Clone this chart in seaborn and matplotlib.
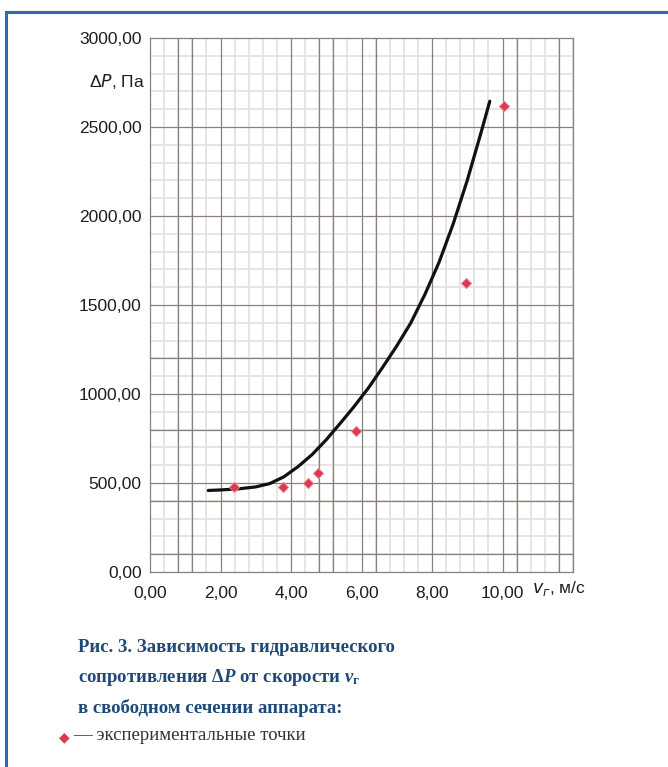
import matplotlib
matplotlib.use("Agg")
import matplotlib.pyplot as plt
import seaborn as sns
import pandas as pd
from matplotlib.patches import Rectangle
from matplotlib.ticker import MultipleLocator, FixedLocator

# Experimental points: gas velocity (m/s) and pressure drop (Pa)
velocity_exp = [2.37, 3.77, 4.47, 4.77, 5.85, 8.96, 10.04]
pressure_exp = [480, 477, 499, 557, 794, 1621, 2620]

# Trend curve through the measurements
velocity_fit = [1.65, 2.0, 2.5, 3.0, 3.4, 3.8, 4.2, 4.6, 5.0, 5.4, 5.8,
                6.2, 6.6, 7.0, 7.4, 7.8, 8.2, 8.6, 9.0, 9.4, 9.64]
pressure_fit = [458, 461, 467, 478, 497, 535, 592, 660, 743, 836, 932,
                1035, 1150, 1270, 1400, 1560, 1740, 1955, 2200, 2475, 2645]

x_ticks = [0, 2, 4, 6, 8, 10]
y_ticks = [0, 500, 1000, 1500, 2000, 2500, 3000]

# Darker lines of the graph-paper background
x_grid_dark = [0.8, 1.2, 2, 4, 4.8, 5.2, 6, 6.4, 8, 10, 10.4, 11.6]
y_grid_dark = [100, 400, 500, 800, 1000, 1200, 1500, 2000, 2500]

sns.set_theme(style="white")
plt.rcParams["font.family"] = ["Liberation Sans", "DejaVu Sans"]
plt.rcParams["mathtext.fontset"] = "custom"
plt.rcParams["mathtext.rm"] = "Liberation Serif:bold"
plt.rcParams["mathtext.it"] = "Liberation Serif:italic:bold"
plt.rcParams["mathtext.bf"] = "Liberation Serif:bold"

W, H = 668, 767
fig = plt.figure(figsize=(W / 100, H / 100), dpi=100)
fig.patch.set_facecolor("white")

ax = fig.add_axes([150 / W, 1 - 572 / H, (573 - 150) / W, (572 - 38) / H])
ax.set_facecolor("white")
ax.set_xlim(0, 12)
ax.set_ylim(0, 3000)

grid_dark = "#8a807b"
grid_light = "#e3e3e3"
text_dark = "#1e1e1e"

# Fine graph-paper grid
ax.xaxis.set_minor_locator(MultipleLocator(0.4))
ax.yaxis.set_minor_locator(MultipleLocator(100))
ax.grid(which="minor", color=grid_light, linewidth=1.3)
ax.grid(which="major", visible=False)
for xv in x_grid_dark:
    ax.axvline(xv, color=grid_dark, linewidth=0.9, zorder=1)
for yv in y_grid_dark:
    ax.axhline(yv, color=grid_dark, linewidth=0.9, zorder=1)
ax.set_axisbelow(True)

for side in ["left", "bottom", "top", "right"]:
    ax.spines[side].set_color(grid_dark)
    ax.spines[side].set_linewidth(0.9)

df_fit = pd.DataFrame({"v": velocity_fit, "dp": pressure_fit})
df_exp = pd.DataFrame({"v": velocity_exp, "dp": pressure_exp})

sns.lineplot(data=df_fit, x="v", y="dp", ax=ax, color="#111111",
             linewidth=2.3, sort=True, estimator=None, zorder=4)
sns.scatterplot(data=df_exp, x="v", y="dp", ax=ax, marker="D", s=28,
                color="#dc3a52", edgecolor="#f08a98", linewidth=0.6, zorder=5)

ax.set_xlabel("")
ax.set_ylabel("")
ax.xaxis.set_major_locator(FixedLocator(x_ticks))
ax.yaxis.set_major_locator(FixedLocator(y_ticks))
ax.set_xticklabels([f"{v:.2f}".replace(".", ",") for v in x_ticks])
ax.set_yticklabels([f"{v:.2f}".replace(".", ",") for v in y_ticks])
ax.tick_params(axis="both", which="major", length=3, width=0.8,
               color=grid_dark, labelsize=12.5, labelcolor=text_dark,
               direction="out")
ax.tick_params(which="minor", length=0)
ax.tick_params(axis="x", pad=7)
ax.tick_params(axis="y", pad=3)

# Axis captions
ax.text(-0.012, 2753, "Δ$P$, Па", transform=ax.get_yaxis_transform(),
        ha="right", va="center", fontsize=12.5, color=text_dark,
        math_fontfamily="dejavusans")
ax.text(10.85, -90, "$v_г$, м/с", ha="left", va="center",
        fontsize=12.5, color=text_dark, math_fontfamily="dejavusans",
        clip_on=False)

# Figure caption
cap_color = "#1f4a78"
serif = ["Liberation Serif", "DejaVu Serif"]
cap_size = 13.5
fig.text(78 / W, 1 - 647 / H, "Рис. 3. Зависимость гидравлического",
         fontsize=cap_size, fontweight="bold", family=serif, color=cap_color,
         ha="left", va="center")
fig.text(78 / W, 1 - 678 / H,
         r"сопротивления Δ$P$ от скорости $v_{\mathrm{г}}$",
         fontsize=cap_size, fontweight="bold", family=serif, color=cap_color,
         ha="left", va="center")
fig.text(78 / W, 1 - 708 / H, "в свободном сечении аппарата:",
         fontsize=cap_size, fontweight="bold", family=serif, color=cap_color,
         ha="left", va="center")
fig.text(64 / W, 1 - 737 / H, "◆", fontsize=10, color="#dc3a52",
         family=["DejaVu Sans"], ha="center", va="center")
fig.text(73 / W, 1 - 736 / H, "— экспериментальные точки",
         fontsize=13.5, family=serif, color="#333333",
         ha="left", va="center")

# Blue frame around the figure
fig.patches.append(Rectangle((6 / W, -0.05), 1.2, 1 - 12 / H + 0.05,
                             transform=fig.transFigure, fill=False,
                             edgecolor="#2f6aa6", linewidth=2.2))

fig.savefig("out.png", dpi=100)
